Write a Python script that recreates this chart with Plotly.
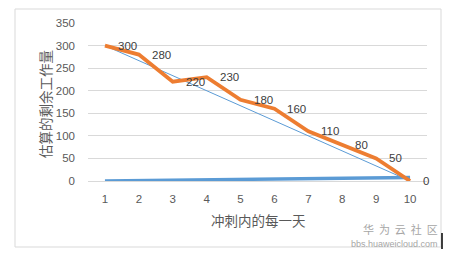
import plotly.graph_objects as go

days = [1, 2, 3, 4, 5, 6, 7, 8, 9, 10]
actual_remaining = [300, 280, 220, 230, 180, 160, 110, 80, 50, 0]
ideal_days = [1, 10]
ideal_remaining = [300, 0]
completed = [0, 1, 2, 3, 4, 5, 6, 7, 8, 8]
y_ticks = [0, 50, 100, 150, 200, 250, 300, 350]

FONT = "Liberation Sans, Noto Sans CJK SC"
CJK = "Noto Sans CJK SC"

fig = go.Figure()
fig.add_trace(go.Scatter(x=ideal_days, y=ideal_remaining, mode="lines",
                         line=dict(color="#5B9BD5", width=1), showlegend=False))
fig.add_trace(go.Scatter(x=days, y=completed, mode="lines",
                         line=dict(color="#5B9BD5", width=3.5), showlegend=False))
fig.add_trace(go.Scatter(x=days, y=actual_remaining, mode="lines",
                         line=dict(color="#ED7D31", width=3.8), showlegend=False))

L, R, T, B = 88, 23, 23, 75
pw, ph = 450 - L - R, 256 - T - B

def px(x):
    return (x - L) / pw

def py(y):
    return (256 - B - y) / ph

annotations = [
    dict(x=d, y=v, xref="x", yref="y", text=str(v), showarrow=False,
         xanchor="left", yanchor="middle", xshift=11,
         font=dict(family=FONT, size=11.5, color="#404040"))
    for d, v in zip(days, actual_remaining)
]
annotations += [
    dict(text="估算的剩余工作量", xref="paper", yref="paper",
         x=px(45), y=py(104), textangle=-90, showarrow=False,
         xanchor="center", yanchor="middle",
         font=dict(family=CJK, size=13.5, color="#595959")),
    dict(text="冲刺内的每一天", xref="paper", yref="paper",
         x=px(258), y=py(220), showarrow=False,
         xanchor="center", yanchor="middle",
         font=dict(family=CJK, size=13.5, color="#595959")),
    dict(text="华  为  云  社  区", xref="paper", yref="paper",
         x=px(440), y=py(229), showarrow=False,
         xanchor="right", yanchor="middle",
         font=dict(family=CJK, size=11, color="#A6A6A6")),
    dict(text="bbs.huaweicloud.com", xref="paper", yref="paper",
         x=px(440), y=py(244), showarrow=False,
         xanchor="right", yanchor="middle",
         font=dict(family=FONT, size=9, color="#A6A6A6")),
]

fig.update_layout(
    width=450, height=256,
    margin=dict(l=L, r=R, t=T, b=B),
    paper_bgcolor="white", plot_bgcolor="white",
    font=dict(family=FONT, color="#595959", size=11),
    xaxis=dict(range=[0.5, 10.5], tickmode="array", tickvals=days,
               ticktext=[str(d) for d in days], showgrid=False, zeroline=False,
               showline=False, ticks="", ticklabelstandoff=9,
               tickfont=dict(size=11.5, color="#595959")),
    yaxis=dict(range=[0, 350], tickmode="array", tickvals=y_ticks,
               showgrid=True, gridcolor="#D9D9D9", gridwidth=1,
               zeroline=True, zerolinecolor="#D9D9D9", zerolinewidth=1,
               showline=False, ticks="", ticklabelstandoff=12,
               tickfont=dict(size=11.5, color="#595959")),
    shapes=[
        dict(type="rect", xref="paper", yref="paper",
             x0=px(15), x1=px(441), y0=py(247), y1=py(9),
             line=dict(color="#D9D9D9", width=1), layer="below"),
        dict(type="line", xref="paper", yref="paper",
             x0=px(442), x1=px(442), y0=py(249), y1=py(233),
             line=dict(color="#000000", width=1.5)),
    ],
    annotations=annotations,
)

fig.write_html("out.html")
